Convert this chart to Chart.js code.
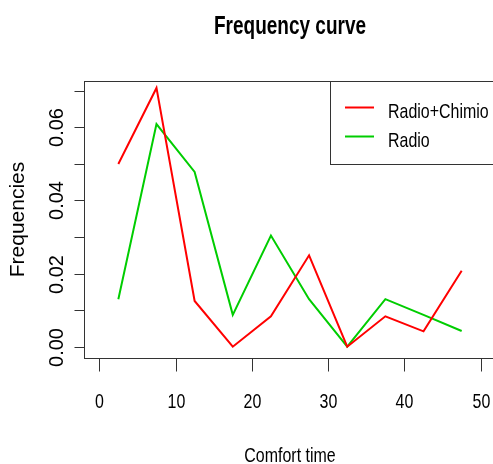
<!DOCTYPE html>
<html>
<head>
<meta charset="utf-8">
<script src="https://cdn.jsdelivr.net/npm/chart.js@4.4.0/dist/chart.umd.min.js"></script>
<style>
  html, body { margin: 0; padding: 0; background: #fff; overflow: hidden; }
  #wrap { position: relative; width: 493px; height: 464px; overflow: hidden; }
  canvas { display: block; }
</style>
</head>
<body>
<div id="wrap"><canvas id="c" width="500" height="464"></canvas></div>
<script>
// Class midpoints of comfort time (bin width 5)
const comfortTime = [2.5, 7.5, 12.5, 17.5, 22.5, 27.5, 32.5, 37.5, 42.5, 47.5];
// Relative frequency densities per class
const radioChimio = [0.0500, 0.0708, 0.0125, 0.0000, 0.0083, 0.0250, 0.0000, 0.0083, 0.0042, 0.0208];
const radio       = [0.0130, 0.0609, 0.0478, 0.0087, 0.0304, 0.0130, 0.0000, 0.0130, 0.0087, 0.0043];
const seriesNames = ['Radio+Chimio', 'Radio'];
const seriesColors = ['#FF0000', '#00CD00'];

const xTickValues = [0, 10, 20, 30, 40, 50];
const xTickLabels = ['0', '10', '20', '30', '40', '50'];
const yTickValues = [0, 0.01, 0.02, 0.03, 0.04, 0.05, 0.06, 0.07];
const yTickLabels = ['0.00', '', '0.02', '', '0.04', '', '0.06', ''];

const titleText = 'Frequency curve';
const xTitle = 'Comfort time';
const yTitle = 'Frequencies';

const FONT = '"Liberation Sans", Arial, sans-serif';
const SX = 0.76; // horizontal text compression

function hText(ctx, str, x, y, size, bold, align) {
  ctx.save();
  ctx.translate(x, y);
  ctx.scale(SX, 1);
  ctx.font = (bold ? 'bold ' : '') + size + 'px ' + FONT;
  ctx.textAlign = align;
  ctx.textBaseline = 'alphabetic';
  ctx.fillStyle = '#000';
  ctx.fillText(str, 0, 0);
  ctx.restore();
}

function vText(ctx, str, x, y, size) {
  ctx.save();
  ctx.translate(x, y);
  ctx.rotate(-Math.PI / 2);
  ctx.font = size + 'px ' + FONT;
  ctx.textAlign = 'center';
  ctx.textBaseline = 'alphabetic';
  ctx.fillStyle = '#000';
  ctx.fillText(str, 0, 0);
  ctx.restore();
}

const basePlot = {
  id: 'basePlot',
  afterDraw(chart) {
    const ctx = chart.ctx;
    const area = chart.chartArea;
    const xs = chart.scales.x, ys = chart.scales.y;
    const L = Math.round(area.left) + 0.5, T = Math.round(area.top) + 0.5;
    const R = Math.round(area.right) + 0.5, B = Math.round(area.bottom) + 0.5;

    ctx.save();
    ctx.strokeStyle = '#333';
    ctx.lineWidth = 1;
    // plot box
    ctx.strokeRect(L, T, R - L, B - T);

    // x axis ticks + labels
    xTickValues.forEach((v, i) => {
      const px = Math.round(xs.getPixelForValue(v)) + 0.5;
      ctx.beginPath(); ctx.moveTo(px, B); ctx.lineTo(px, B + 13); ctx.stroke();
      hText(ctx, xTickLabels[i], px, 408, 21, false, 'center');
    });

    // y axis ticks + labels
    yTickValues.forEach((v, i) => {
      const py = Math.round(ys.getPixelForValue(v)) + 0.5;
      ctx.beginPath(); ctx.moveTo(L - 10, py); ctx.lineTo(L, py); ctx.stroke();
      if (yTickLabels[i]) vText(ctx, yTickLabels[i], 63, py, 20);
    });

    // titles
    const cx = (area.left + area.right) / 2;
    hText(ctx, titleText, cx, 34, 25, true, 'center');
    hText(ctx, xTitle, cx, 462, 21, false, 'center');
    vText(ctx, yTitle, 24, (area.top + area.bottom) / 2, 21);

    // legend (top right of plot region)
    const lgL = 330.5, lgT = T, lgB = 164.5;
    ctx.fillStyle = '#fff';
    ctx.fillRect(lgL, lgT, R - lgL, lgB - lgT);
    ctx.strokeStyle = '#333';
    ctx.strokeRect(lgL, lgT, R - lgL, lgB - lgT);
    const rowsY = [107.5, 136.5];
    chart.data.datasets.forEach((ds, i) => {
      ctx.strokeStyle = ds.borderColor;
      ctx.lineWidth = 2;
      ctx.beginPath(); ctx.moveTo(345, rowsY[i]); ctx.lineTo(374, rowsY[i]); ctx.stroke();
      hText(ctx, ds.label, 388, rowsY[i] + 10, 21, false, 'left');
    });
    ctx.restore();
  }
};

const toPoints = (ys) => comfortTime.map((x, i) => ({ x, y: ys[i] }));

new Chart(document.getElementById('c'), {
  type: 'line',
  data: {
    datasets: [
      { label: seriesNames[0], data: toPoints(radioChimio), borderColor: seriesColors[0], borderWidth: 2, pointRadius: 0, tension: 0, fill: false },
      { label: seriesNames[1], data: toPoints(radio), borderColor: seriesColors[1], borderWidth: 2, pointRadius: 0, tension: 0, fill: false }
    ]
  },
  options: {
    responsive: false,
    animation: false,
    events: [],
    layout: { padding: { left: 84, top: 81, right: 4, bottom: 106 } },
    scales: {
      x: { type: 'linear', min: -2, max: 52, display: false },
      y: { type: 'linear', min: -0.0031, max: 0.0727, display: false }
    },
    plugins: { legend: { display: false }, title: { display: false }, tooltip: { enabled: false } }
  },
  plugins: [basePlot]
});
</script>
</body>
</html>
